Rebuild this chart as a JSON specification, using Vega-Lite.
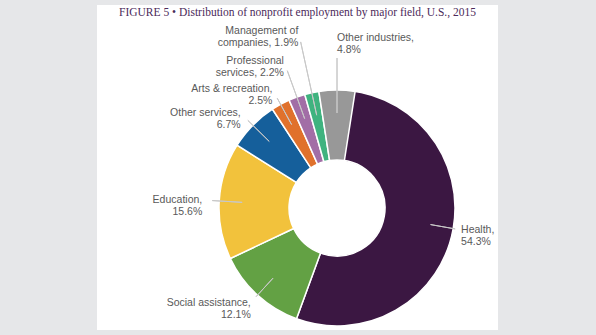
{
  "$schema": "https://vega.github.io/schema/vega-lite/v6.json",
  "background": "#e6e7e9",
  "padding": {"left": 97, "right": 98, "top": 5, "bottom": 5},
  "bounds": "flush",
  "spacing": 0,
  "config": {"view": {"stroke": null, "fill": "#ffffff"}, "text": {"font": "Liberation Sans"}},
  "datasets": {
    "fields": [
      {"field": "Health", "pct": 54.3},
      {"field": "Social assistance", "pct": 12.1},
      {"field": "Education", "pct": 15.6},
      {"field": "Other services", "pct": 6.7},
      {"field": "Arts & recreation", "pct": 2.5},
      {"field": "Professional services", "pct": 2.2},
      {"field": "Management of companies", "pct": 1.9},
      {"field": "Other industries", "pct": 4.8}
    ]
  },
  "vconcat": [
    {
      "width": 401, "height": 16,
      "view": {"fill": "#ffffff", "stroke": null},
      "data": {"values": [{"title": "FIGURE 5 • Distribution of nonprofit employment by major field, U.S., 2015"}]},
      "mark": {"type": "text", "font": "Liberation Serif", "fontSize": 11.5, "color": "#4b2a5a", "baseline": "middle", "align": "center"},
      "encoding": {"text": {"field": "title", "type": "nominal"}}
    },
    {"width": 401, "height": 65, "view": {"fill": "#ffffff", "stroke": null}, "data": {"values": []}, "mark": "point"},
    {
      "spacing": 0,
      "bounds": "flush",
      "hconcat": [
        {"width": 79, "height": 244, "view": {"fill": "#ffffff", "stroke": null}, "data": {"values": []}, "mark": "point"},
        {
          "width": 322, "height": 244,
          "view": {"fill": "#ffffff", "stroke": null},
          "data": {"name": "fields"},
          "transform": [
            {"window": [{"op": "row_number", "as": "rank"}]},
            {"stack": "pct", "groupby": [], "sort": [{"field": "rank", "order": "ascending"}], "as": ["p0", "p1"]},
            {"calculate": "(datum.p0 + datum.p1) / 2", "as": "mid"},
            {"calculate": "datum.field === 'Professional services' ? ['Professional', 'services, ' + format(datum.pct, '.1f') + '%'] : datum.field === 'Management of companies' ? ['Management of', 'companies, ' + format(datum.pct, '.1f') + '%'] : [datum.field + ',', format(datum.pct, '.1f') + '%']", "as": "lbl"}
          ],
          "encoding": {
            "theta": {"field": "mid", "type": "quantitative", "stack": null, "scale": {"nice": false, "zero": true}}
          },
          "layer": [
            {
              "mark": {"type": "arc", "outerRadius": 118, "innerRadius": 48, "stroke": "#ffffff", "strokeWidth": 1.5},
              "encoding": {
                "theta": {"field": "p0", "type": "quantitative", "stack": null, "scale": {"nice": false, "zero": true}},
                "theta2": {"field": "p1"},
                "color": {
                  "field": "field", "type": "nominal", "legend": null,
                  "scale": {
                    "domain": ["Health", "Social assistance", "Education", "Other services", "Arts & recreation", "Professional services", "Management of companies", "Other industries"],
                    "range": ["#3b1742", "#63a144", "#f2c23c", "#155f9b", "#e0712c", "#a26ea6", "#3fb37f", "#989898"]
                  }
                }
              }
            },
            {
              "transform": [{"filter": {"field": "field", "oneOf": ["Education", "Other services", "Arts & recreation"]}}],
              "mark": {"type": "arc", "radius": 125, "radius2": 95, "filled": false, "stroke": "#c8c8c8", "strokeWidth": 1},
              "encoding": {"theta2": {"field": "mid"}}
            },
            {
              "transform": [{"filter": {"field": "field", "oneOf": ["Education", "Other services", "Arts & recreation"]}}],
              "mark": {"type": "text", "radius": 135, "align": "right", "baseline": "middle", "fontSize": 10.5, "color": "#595959", "lineHeight": 12},
              "encoding": {"text": {"field": "lbl", "type": "nominal"}}
            },
            {
              "transform": [{"filter": {"field": "field", "oneOf": ["Social assistance"]}}],
              "mark": {"type": "arc", "radius": 120, "radius2": 95, "filled": false, "stroke": "#c8c8c8", "strokeWidth": 1},
              "encoding": {"theta2": {"field": "mid"}}
            },
            {
              "transform": [{"filter": {"field": "field", "oneOf": ["Social assistance"]}}],
              "mark": {"type": "text", "radius": 128, "align": "right", "baseline": "middle", "fontSize": 10.5, "color": "#595959", "lineHeight": 12},
              "encoding": {"text": {"field": "lbl", "type": "nominal"}}
            },
            {
              "transform": [{"filter": {"field": "field", "oneOf": ["Health"]}}],
              "mark": {"type": "arc", "radius": 120, "radius2": 95, "filled": false, "stroke": "#c8c8c8", "strokeWidth": 1},
              "encoding": {"theta2": {"field": "mid"}}
            },
            {
              "transform": [{"filter": {"field": "field", "oneOf": ["Health"]}}],
              "mark": {"type": "text", "radius": 126, "align": "left", "baseline": "middle", "fontSize": 10.5, "color": "#595959", "lineHeight": 12},
              "encoding": {"text": {"field": "lbl", "type": "nominal"}}
            },
            {
              "transform": [{"filter": {"field": "field", "oneOf": ["Professional services"]}}],
              "mark": {"type": "arc", "radius": 146, "radius2": 95, "filled": false, "stroke": "#c8c8c8", "strokeWidth": 1},
              "encoding": {"theta2": {"field": "mid"}}
            },
            {
              "transform": [{"filter": {"field": "field", "oneOf": ["Professional services"]}}],
              "mark": {"type": "text", "radius": 156, "align": "right", "baseline": "middle", "fontSize": 10.5, "color": "#595959", "lineHeight": 12},
              "encoding": {"text": {"field": "lbl", "type": "nominal"}}
            },
            {
              "transform": [{"filter": {"field": "field", "oneOf": ["Management of companies"]}}],
              "mark": {"type": "arc", "radius": 170, "radius2": 95, "filled": false, "stroke": "#c8c8c8", "strokeWidth": 1},
              "encoding": {"theta2": {"field": "mid"}}
            },
            {
              "transform": [{"filter": {"field": "field", "oneOf": ["Management of companies"]}}],
              "mark": {"type": "text", "radius": 181, "align": "right", "baseline": "middle", "fontSize": 10.5, "color": "#595959", "lineHeight": 12},
              "encoding": {"text": {"field": "lbl", "type": "nominal"}}
            },
            {
              "transform": [{"filter": {"field": "field", "oneOf": ["Other industries"]}}],
              "mark": {"type": "arc", "radius": 150, "radius2": 95, "filled": false, "stroke": "#c8c8c8", "strokeWidth": 1},
              "encoding": {"theta2": {"field": "mid"}}
            },
            {
              "transform": [{"filter": {"field": "field", "oneOf": ["Other industries"]}}],
              "mark": {"type": "text", "radius": 170, "align": "left", "baseline": "middle", "fontSize": 10.5, "color": "#595959", "lineHeight": 12},
              "encoding": {"text": {"field": "lbl", "type": "nominal"}}
            }
          ]
        }
      ]
    }
  ]
}
